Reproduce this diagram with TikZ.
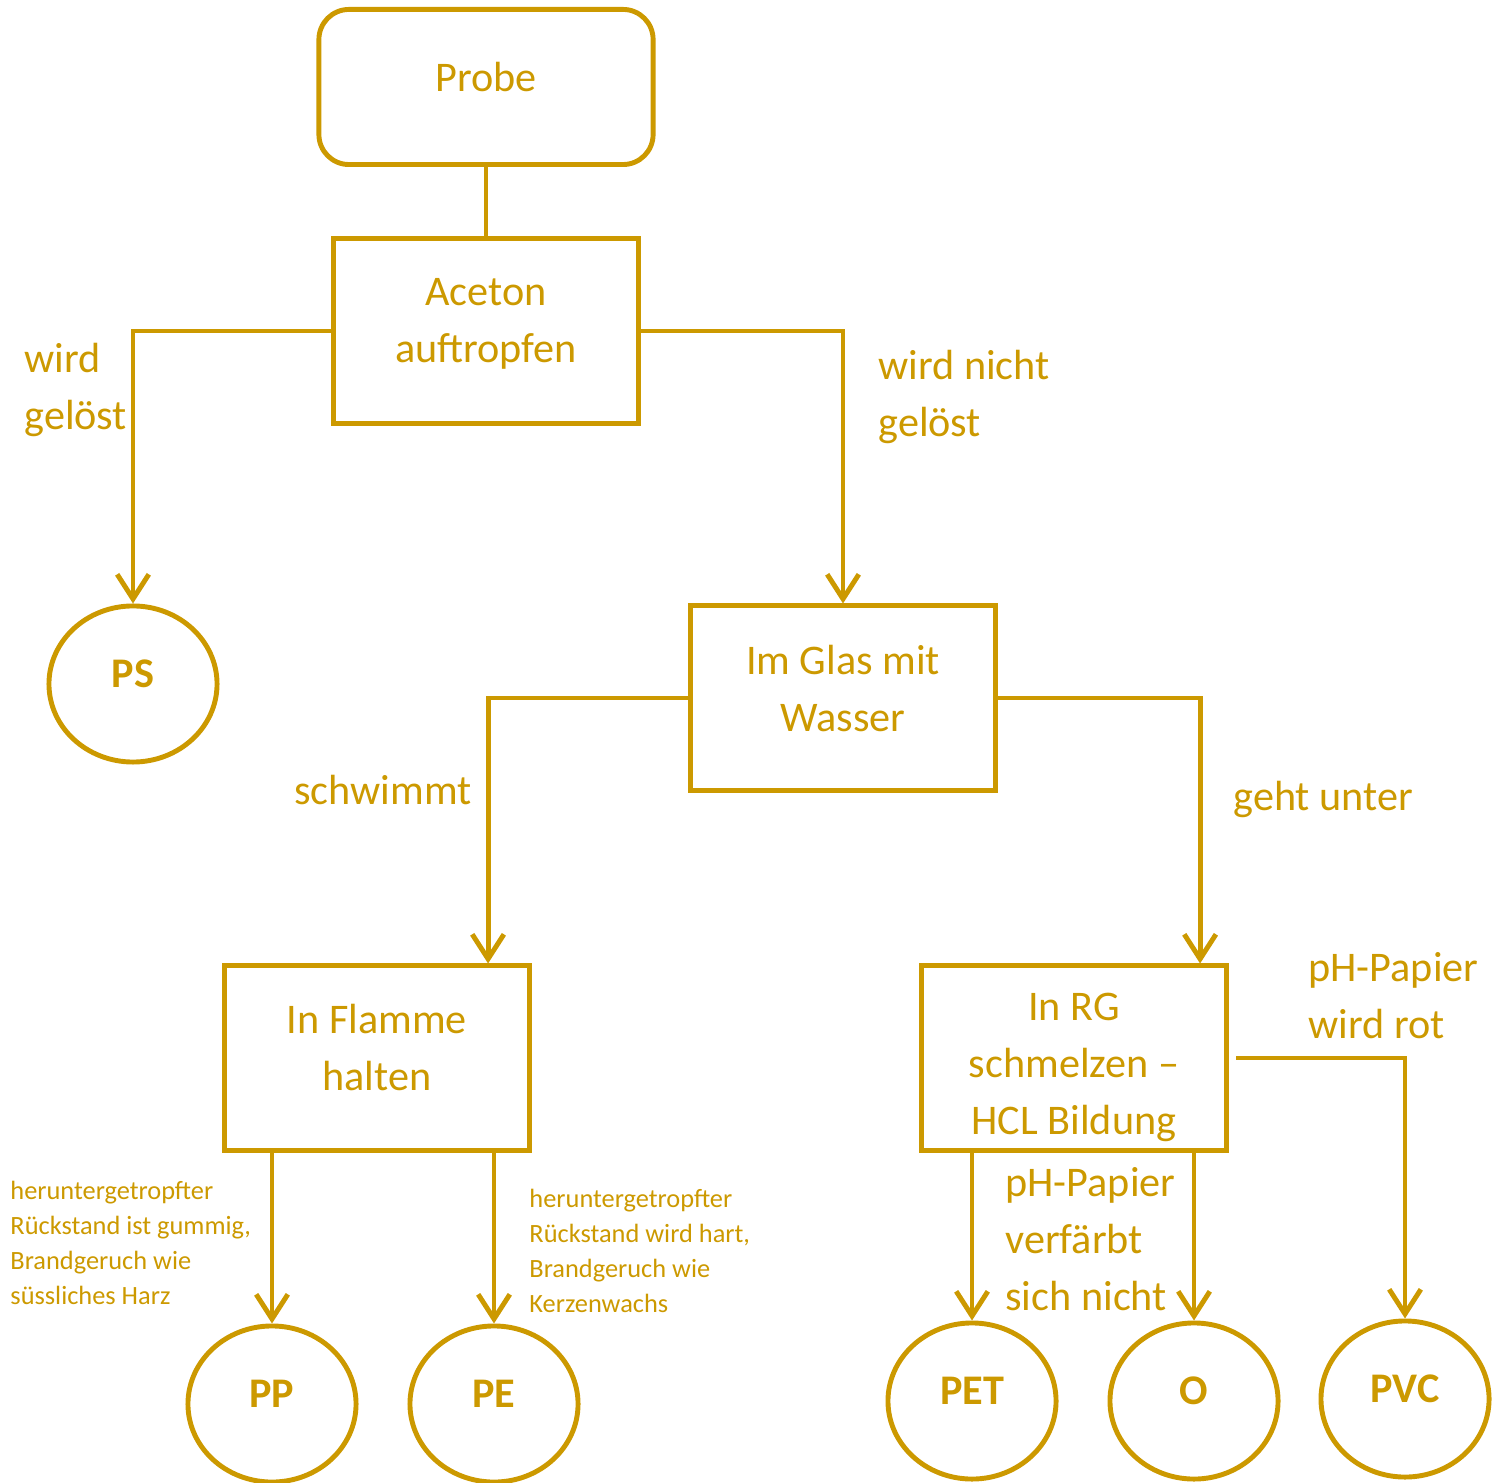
\documentclass[tikz,border=0pt]{standalone}
\usepackage{fontspec}
\setmainfont{Carlito}
\usepackage{tikz}
\usetikzlibrary{shapes.geometric, positioning, arrows.meta}
\definecolor{gold}{RGB}{204,153,0}

\tikzset{
  box/.style={draw=gold, line width=1.4pt, minimum width=3.05cm, minimum height=1.84cm,
    align=center, text=gold, font=\fontsize{12}{16.2}\selectfont},
  result/.style={ellipse, draw=gold, line width=1.4pt, minimum width=1.68cm, minimum height=1.56cm,
    text=gold, text depth=5.7pt, font=\fontsize{12}{14}\selectfont\bfseries},
  lbl/.style={text=gold, align=left, inner sep=0pt, font=\fontsize{12}{16.2}\selectfont},
  small/.style={text=gold, align=left, inner sep=0pt, font=\fontsize{7.5}{10}\selectfont},
  arr/.style={-{Straight Barb[length=7pt,width=9pt]}}
}

\begin{document}
\begin{tikzpicture}[x=0.01cm, y=-0.01cm, draw=gold, line width=1.4pt]
    \useasboundingbox (0,0) rectangle (1504,1483);

    % boxes
    \node[box, rounded corners=0.3cm, minimum width=3.34cm, minimum height=1.55cm, text depth=5.7pt] (probe) at (486,87) {Probe};
    \node[box, text depth=6.1pt] (aceton) at (486,331) {Aceton\\auftropfen};
    \node[box, text depth=5.7pt] (glas) at (843,698) {Im Glas mit\\Wasser};
    \node[box, text depth=6.2pt] (flamme) at (377,1058) {In Flamme\\halten};
    \node[box, text depth=0pt] (rg) at (1074,1058) {\strut In RG\\schmelzen --\\HCL Bildung};

    % results
    \node[result] (ps) at (133,684) {PS};
    \node[result] (pp) at (272,1404) {PP};
    \node[result] (pe) at (494,1404) {PE};
    \node[result] (pet) at (972,1401) {PET};
    \node[result] (o) at (1194,1401) {O};
    \node[result] (pvc) at (1405,1399) {PVC};

    % connectors
    \draw (probe.south) -- (aceton.north);
    \draw[arr] (aceton.west) -| (ps.north);
    \draw[arr] (aceton.east) -| (glas.north);
    \draw[arr] (glas.west) -| ([xshift=1.11cm]flamme.north);
    \draw[arr] (glas.east) -| ([xshift=1.26cm]rg.north);
    \draw[arr] (flamme.south -| pp.north) -- (pp.north);
    \draw[arr] (flamme.south -| pe.north) -- (pe.north);
    \draw[arr] (rg.south -| pet.north) -- (pet.north);
    \draw[arr] (rg.south -| o.north) -- (o.north);
    \draw[arr] ([xshift=0.07cm]rg.east) -| (pvc.north);

    % labels
    \node[lbl, anchor=west] (l1) at (22,390) {wird\\gelöst};
    \node[lbl, anchor=west] (l2) at (876,397) {wird nicht\\gelöst};
    \node[lbl, anchor=east] (l3) at (474,790) {schwimmt};
    \node[lbl, anchor=west] (l4) at (1231,799) {geht unter};
    \node[lbl, anchor=west] (l5) at (1306,996) {pH-Papier\\wird rot};
    \node[lbl, anchor=west] (l6) at (1003,1239) {pH-Papier\\verfärbt\\sich nicht};
    \node[small, anchor=west] (l7) at (8,1243) {heruntergetropfter\\Rückstand ist gummig,\\Brandgeruch wie\\süssliches Harz};
    \node[small, anchor=west] (l8) at (527,1251) {heruntergetropfter\\Rückstand wird hart,\\Brandgeruch wie\\Kerzenwachs};
\end{tikzpicture}
\end{document}
